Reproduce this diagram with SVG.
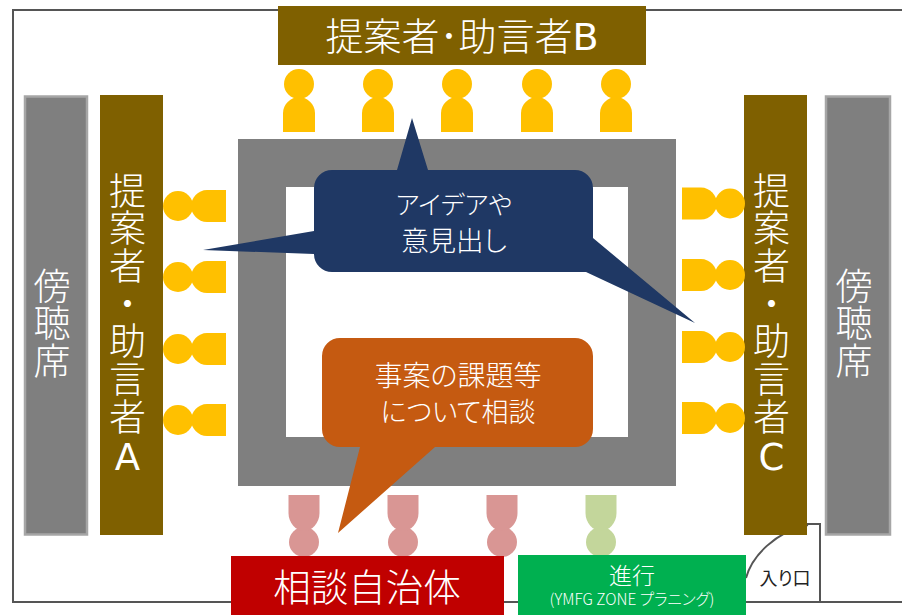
<svg xmlns="http://www.w3.org/2000/svg" width="902" height="615" viewBox="0 0 902 615">
<style>
text{font-family:"Noto Sans CJK JP","Noto Sans",sans-serif;fill:#fff;text-anchor:middle;font-weight:300;font-feature-settings:"palt"}
.brown{fill:#7f6000}
.side{fill:#7f7f7f;stroke:#a6a6a6;stroke-width:2.5}
.wall{fill:none;stroke:#555;stroke-width:2}
.y{fill:#ffc000}.r{fill:#d99694}.g{fill:#c3d69b}
.v{font-size:37px;writing-mode:vertical-rl;text-orientation:upright;text-anchor:start;letter-spacing:.7px;font-feature-settings:normal}
.l{font-family:"DejaVu Sans",sans-serif;font-weight:400}
</style>
<defs>
<g id="pt"><circle cx="0" cy="-48" r="15"/><path d="M-16 0V-19C-16 -28 -8 -35 0 -35S16 -28 16 -19V0Z"/></g>
<g id="pb"><circle cx="0" cy="32" r="15"/><path d="M-15.500 -15H15.500V3C15.500 13 8 21 0 21S-15.500 13-15.500 3Z"/></g>
</defs>
<g id="room">
<path class="wall" d="M902 10H13V602H231M504 602H518M746 602H902"/>
<path class="wall" d="M746 602H820V524H807M746 578C752 556 775 532 808 525"/>
</g>
<g id="table"><path fill="#7f7f7f" fill-rule="evenodd" d="M238 139H676V486H238ZM286 187V437H628V187Z"/></g>
<g id="audience-left"><rect class="side" x="25" y="96.500" width="62" height="438"/><text class="v" x="52" y="267">傍聴席</text></g>
<g id="audience-right"><rect class="side" x="826" y="96.500" width="64" height="438"/><text class="v" x="854" y="267">傍聴席</text></g>
<g id="advisor-a"><rect class="brown" x="100" y="95" width="63" height="440"/>
<text class="v" x="127.500" y="172">提案者・助言者<tspan class="l">A</tspan></text></g>
<g id="advisor-c"><rect class="brown" x="744" y="95" width="63" height="440"/>
<text class="v" x="771.500" y="172">提案者・助言者<tspan class="l">C</tspan></text></g>
<g id="advisor-b"><rect class="brown" x="278" y="6" width="368" height="59"/><text x="462" y="50" font-size="38">提案者･助言者<tspan class="l">B</tspan></text></g>
<g id="people-top" class="y">
<use href="#pt" x="299" y="132"/><use href="#pt" x="378" y="132"/><use href="#pt" x="457" y="132"/><use href="#pt" x="537" y="132"/><use href="#pt" x="616" y="132"/>
</g>
<g id="people-left" class="y">
<use href="#pt" transform="translate(226 206) rotate(-90)"/><use href="#pt" transform="translate(226 277) rotate(-90)"/><use href="#pt" transform="translate(226 349) rotate(-90)"/><use href="#pt" transform="translate(226 420) rotate(-90)"/>
</g>
<g id="people-right" class="y">
<use href="#pt" transform="translate(682 203.500) rotate(90)"/><use href="#pt" transform="translate(682 275) rotate(90)"/><use href="#pt" transform="translate(682 347) rotate(90)"/><use href="#pt" transform="translate(682 418) rotate(90)"/>
</g>
<g id="people-bottom">
<use class="r" href="#pb" x="304" y="510"/><use class="r" href="#pb" x="403" y="510"/><use class="r" href="#pb" x="502" y="510"/><use class="g" href="#pb" x="601" y="510"/>
</g>
<g id="callout-ideas">
<path fill="#1f3864" d="M332 170H575A18 18 0 0 1 593 188V238L695 323L586 272H332A18 18 0 0 1 314 254L203 250L314 231V188A18 18 0 0 1 332 170H397L412 118L428 170Z"/>
<text x="454" y="214" font-size="25.500">アイデアや<tspan x="454" y="251" font-size="27.500">意見出し</tspan></text>
</g>
<g id="callout-issue">
<path fill="#c55a11" d="M340 338H575A18 18 0 0 1 593 356V429A18 18 0 0 1 575 447H435L338 533L360 447H340A18 18 0 0 1 322 429V356A18 18 0 0 1 340 338Z"/>
<text x="458" y="386" font-size="28">事案の課題等<tspan x="458" y="422" font-size="27">について相談</tspan></text>
</g>
<g id="municipality"><rect fill="#c00000" x="231" y="556" width="273" height="59"/><text x="367" y="601" font-size="37.500">相談自治体</text></g>
<g id="facilitator"><rect fill="#00b050" x="518" y="555" width="228" height="60"/><text x="632" y="584" font-size="23">進行</text><text x="632" y="605" font-size="15.500">(YMFG ZONE プラニング)</text></g>
<g id="entrance"><text x="785" y="585" font-size="18" style="fill:#222;font-weight:400">入り口</text></g>
</svg>
